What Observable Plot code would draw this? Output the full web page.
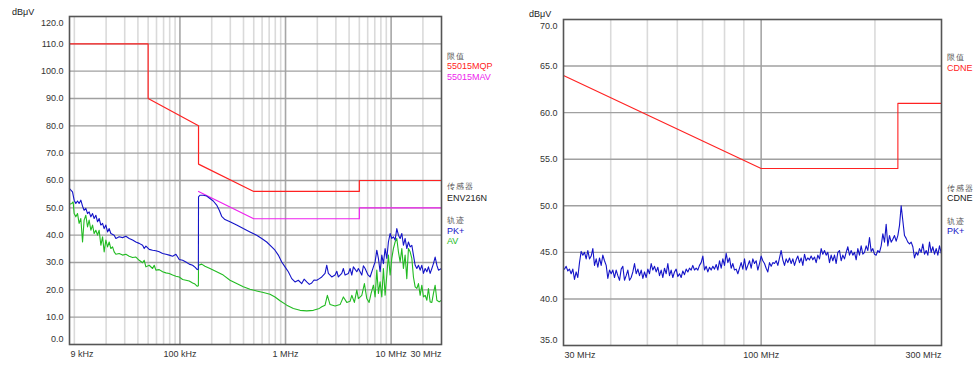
<!DOCTYPE html>
<html><head><meta charset="utf-8">
<script src="https://cdn.jsdelivr.net/npm/d3@7"></script>
<script src="https://cdn.jsdelivr.net/npm/@observablehq/plot@0.6"></script>
<style>
body{margin:0;background:#fff;font-family:"Liberation Sans",Arial,sans-serif;}
#wrap{position:relative;width:976px;height:373px;overflow:hidden;background:#fff}
.chart{position:absolute;top:0}
.lab{position:absolute;font-size:9px;line-height:10px;white-space:nowrap;color:#222}
.cn{font-size:8px;color:#555;letter-spacing:1px}
</style></head><body><div id="wrap"></div>
<script>
// ---------- LEFT CHART DATA (frequency in kHz, level in dBµV) ----------
const leftXDomain = [9, 30000];
const leftYDomain = [0, 120];
const leftYGrid = [10, 20, 30, 40, 50, 60, 70, 80, 90, 100, 110];
const leftYLabels = [0, 10, 20, 30, 40, 50, 60, 70, 80, 90, 100, 110, 120];
const leftGridMajor = [100, 1000, 10000];
const leftGridMinor = [10, 20, 30, 40, 50, 60, 70, 80, 90, 200, 300, 400, 500, 600, 700, 800, 900,
  2000, 3000, 4000, 5000, 6000, 7000, 8000, 9000, 20000];
const leftXTickValues = [9, 100, 1000, 10000, 30000];
const leftXTickLabels = ["9 kHz", "100 kHz", "1 MHz", "10 MHz", "30 MHz"];

const qpLimitFreq = [9, 50, 50, 150, 150, 500, 5000, 5000, 30000];
const qpLimitValues = [110, 110, 90, 80, 66, 56, 56, 60, 60];
const avLimitFreq = [150, 500, 5000, 5000, 30000];
const avLimitValues = [56, 46, 46, 50, 50];

const pkFreq = [9.0, 9.61, 9.96, 10.33, 10.72, 11.10, 11.52, 11.96, 12.38, 12.85, 13.34, 13.81, 14.34, 14.88,
  15.41, 15.99, 16.59, 17.18, 17.83, 18.51, 19.17, 19.89, 20.64, 21.38, 22.18, 23.84, 24.74, 26.59, 28.63,
  30.78, 33.07, 35.62, 38.28, 41.14, 44.31, 45.89, 47.62, 51.17, 55.11, 59.22, 63.65, 68.55, 73.67, 79.16,
  85.28, 91.65, 98.49, 106.1, 114.0, 122.5, 131.9, 139.6, 145.9, 149.5, 150, 154.7, 166.3, 179.1, 192.5,
  206.8, 222.8, 235.8, 248.5, 267.0, 297.9, 344.6, 398.1, 460.7, 533.3, 595, 663.4, 740, 795, 854.6, 920.5,
  989, 1063, 1145, 1230, 1322, 1424, 1500, 1588, 1680, 1772, 1860, 1976, 2092, 2204, 2368, 2458, 2545, 2741,
  2946, 3058, 3166, 3410, 3531, 3664, 3938, 4087, 4242, 4392, 4731, 4898, 5276, 5463, 5671, 6014, 6323,
  6795, 7052, 7320, 7579, 7865, 8162, 8453, 8772, 9103, 9427, 9783, 10150, 10510, 10910, 11320, 11730,
  12170, 12630, 13080, 13570, 14080, 14590, 15140, 15710, 16270, 16890, 17520, 18150, 18840, 19540, 20240,
  21010, 21800, 22570, 23420, 24310, 25170, 26120, 27110, 28080, 30000];
const pkValues = [57.0, 55.8, 52.8, 51.6, 52.5, 51.6, 52.8, 50.6, 49.1, 49.8, 47.9, 48.5, 46.7, 47.9,
  46.1, 47.3, 44.9, 46.1, 43.7, 44.3, 42.4, 43.7, 41.2, 42.4, 40.6, 40.0, 38.8, 39.4, 39.1,
  39.6, 38.8, 38.2, 37.5, 37.0, 36.3, 35.1, 36.0, 34.8, 34.5, 34.3, 33.9, 33.3, 33.0, 32.7,
  32.3, 33.0, 31.1, 30.8, 30.2, 29.4, 29.0, 28.2, 27.4, 27.6, 54.0, 54.6, 54.6, 54.3, 53.4,
  52.5, 51.0, 49.1, 46.9, 45.7, 44.9, 43.7, 42.4, 41.2, 40.0, 38.8, 37.5, 35.7, 34.5, 32.7, 30.2,
  28.4, 26.6, 24.1, 22.9, 23.5, 22.3, 23.9, 22.9, 22.0, 22.5, 23.6, 23.5, 24.1, 24.7, 26.0, 29.0, 26.0, 24.7,
  25.4, 26.8, 24.7, 26.0, 27.8, 25.4, 26.0, 27.8, 25.4, 28.4, 26.6, 27.8, 25.4, 28.8, 27.8, 25.6, 24.7,
  28.4, 30.2, 34.5, 31.5, 26.6, 32.7, 29.6, 35.1, 31.5, 37.5, 40.6, 38.8, 39.4, 38.2, 42.4, 40.0,
  38.8, 40.6, 36.3, 38.8, 35.1, 37.5, 35.7, 36.3, 32.7, 29.0, 27.8, 29.0, 27.2, 29.0, 26.0,
  27.8, 26.6, 28.4, 26.0, 27.8, 29.6, 32.0, 29.0, 27.2, 27.8];

const avFreq = [9.0, 9.47, 9.74, 9.96, 10.33, 10.72, 11.10, 11.52, 11.96, 12.38, 12.85, 13.34, 13.81, 14.34,
  14.88, 15.41, 15.99, 16.59, 17.18, 17.83, 18.51, 19.17, 19.89, 20.64, 21.38, 22.18, 23.02, 23.84, 24.74,
  26.59, 28.63, 30.78, 33.07, 35.62, 38.28, 41.14, 44.31, 45.89, 47.62, 51.17, 55.11, 57.07, 59.22, 63.65,
  68.55, 73.67, 79.16, 85.28, 91.65, 98.49, 106.1, 114.0, 122.5, 131.9, 138.8, 145.9, 149.5, 150, 160.6,
  172.6, 192.5, 222.8, 257.3, 297.9, 344.6, 398.1, 460.7, 533.3, 616.2, 713, 795, 886.9, 1027, 1186, 1372,
  1588, 1835, 2092, 2204, 2368, 2490, 2641, 2946, 3286, 3531, 3803, 4087, 4242, 4489, 4731, 4898, 5276,
  5585, 5885, 6188, 6463, 6795, 7052, 7320, 7579, 7865, 8162, 8453, 8772, 9103, 9427, 9783, 10150, 10510,
  10910, 11320, 11730, 12170, 12630, 13080, 13570, 14080, 14590, 15140, 15710, 16270, 16890, 17520, 18150,
  18840, 19540, 20240, 21010, 21800, 22570, 23420, 24310, 25170, 26120, 27110, 28510, 30000];
const avValues = [51.3, 51.6, 52.2, 47.9, 46.7, 47.9, 44.3, 46.1, 37.5, 45.5, 47.3, 43.0, 45.5, 41.8,
  43.7, 40.6, 41.8, 40.0, 41.8, 36.3, 39.4, 33.9, 38.2, 35.7, 37.5, 35.1, 35.7, 33.9, 33.0,
  33.3, 32.7, 33.0, 32.3, 31.8, 32.0, 30.8, 29.9, 30.8, 28.4, 29.0, 27.8, 29.0, 27.2, 27.4,
  26.6, 26.2, 26.0, 25.4, 25.0, 24.7, 23.8, 23.5, 23.2, 22.5, 22.1, 21.3, 21.5, 29.0, 29.4,
  28.6, 27.8, 26.6, 25.4, 23.5, 22.3, 21.1, 20.2, 19.6, 19.0, 18.4, 17.4, 16.0, 14.4, 13.2, 12.5,
  12.3, 12.5, 13.2, 13.8, 14.4, 18.0, 14.6, 14.1, 14.6, 17.4, 15.4, 15.8, 18.0, 15.4, 19.9, 16.8, 18.0,
  22.3, 16.8, 15.4, 18.7, 21.7, 17.4, 27.2, 18.7, 22.9, 17.4, 27.8, 18.0, 25.4, 32.7, 25.4, 31.5, 35.1,
  37.5, 38.8, 33.9, 30.2, 35.1, 27.8, 32.7, 24.1, 35.1, 33.9, 31.5, 24.7, 21.1, 20.5, 22.3,
  18.0, 21.7, 17.4, 18.0, 16.2, 20.5, 15.6, 15.4, 18.7, 21.7, 16.2, 15.6, 16.2];

// ---------- RIGHT CHART DATA (frequency in MHz, level in dBµV) ----------
const rightXDomain = [30, 300];
const rightYDomain = [35, 70];
const rightYGrid = [40, 45, 50, 55, 60, 65];
const rightYLabels = [35, 40, 45, 50, 55, 60, 65, 70];
const rightGridMajor = [100];
const rightGridMinor = [40, 50, 60, 70, 80, 90, 200];
const rightXTickValues = [30, 100, 300];
const rightXTickLabels = ["30 MHz", "100 MHz", "300 MHz"];

const cdneLimitFreq = [30, 100, 230, 230, 300];
const cdneLimitValues = [64, 54, 54, 61, 61];

const cdnePkFreq = [
  30.18, 30.49, 30.80, 31.11, 31.43, 31.75, 32.08, 32.40, 32.73, 33.07,
  33.41, 33.75, 34.10, 34.44, 34.79, 35.15, 35.51, 35.87, 36.24, 36.61,
  36.98, 37.36, 37.74, 38.12, 38.51, 38.91, 39.30, 39.70, 40.11, 40.52,
  40.93, 41.35, 41.77, 42.20, 42.63, 43.06, 43.50, 43.94, 44.39, 44.85,
  45.31, 45.77, 46.24, 46.71, 47.19, 47.67, 48.16, 48.65, 49.14, 49.64,
  50.15, 50.66, 51.18, 51.70, 52.23, 52.76, 53.30, 53.84, 54.39, 54.95,
  55.50, 56.07, 56.64, 57.22, 57.80, 58.39, 58.99, 59.59, 60.20, 60.81,
  61.43, 62.06, 62.69, 63.33, 63.98, 64.63, 65.29, 65.95, 66.63, 67.31,
  68.00, 68.69, 69.39, 70.10, 70.82, 71.54, 72.27, 73.01, 73.75, 74.51,
  75.27, 76.04, 76.81, 77.60, 78.39, 79.19, 80.00, 80.81, 81.64, 82.47,
  83.31, 84.16, 85.02, 85.89, 86.76, 87.65, 88.54, 89.45, 90.36, 91.28,
  92.21, 93.15, 94.10, 95.06, 96.03, 97.01, 98.00, 99.00, 100.01, 101.03,
  102.06, 103.10, 104.15, 105.22, 106.29, 107.37, 108.47, 109.58, 110.70, 111.83,
  112.97, 114.12, 115.29, 116.46, 117.65, 118.85, 120.07, 121.29, 122.53, 123.78,
  125.04, 126.32, 127.60, 128.91, 130.22, 131.55, 132.89, 134.25, 135.62, 137.00,
  138.40, 139.81, 141.24, 142.68, 144.14, 145.61, 147.09, 148.59, 150.11, 151.64,
  153.19, 154.75, 156.33, 157.93, 159.54, 161.17, 162.81, 164.47, 166.15, 167.85,
  169.56, 171.29, 173.04, 174.80, 176.59, 178.39, 180.21, 182.05, 183.91, 185.78,
  187.68, 189.60, 191.53, 193.48, 195.46, 197.45, 199.47, 201.50, 203.56, 205.64,
  207.74, 209.86, 212.00, 214.16, 216.35, 218.56, 220.79, 223.04, 225.32, 227.62,
  229.94, 232.29, 234.66, 237.05, 239.47, 241.91, 244.38, 246.87, 249.39, 251.94,
  254.51, 257.11, 259.73, 262.38, 265.06, 267.77, 270.50, 273.26, 276.05, 278.87,
  281.70, 284.57, 287.48, 290.41, 293.37, 296.37, 300.00];
const cdnePkValues = [
  43.2, 43.5, 43.0, 43.2, 42.7, 43.2, 42.1, 42.9, 42.3, 43.9,
  45.1, 44.7, 45.0, 44.3, 45.2, 44.3, 44.6, 45.4, 43.6, 44.3,
  43.4, 44.4, 43.6, 44.7, 44.1, 43.6, 42.2, 43.1, 42.7, 43.1,
  42.3, 43.1, 42.5, 42.0, 43.2, 43.5, 42.0, 42.5, 43.1, 42.0,
  42.3, 42.9, 43.8, 42.7, 43.2, 42.5, 43.1, 42.2, 42.9, 42.3,
  43.2, 42.7, 43.8, 43.1, 43.5, 42.9, 43.4, 42.5, 43.1, 42.3,
  43.3, 42.7, 43.8, 42.5, 43.1, 42.3, 42.9, 43.2, 42.4, 42.7,
  42.3, 43.0, 42.6, 43.2, 42.9, 43.3, 43.1, 43.6, 43.1, 43.3,
  43.1, 43.6, 43.9, 44.6, 43.1, 43.5, 42.9, 43.4, 43.1, 43.5,
  43.2, 43.7, 43.1, 44.1, 43.3, 44.3, 43.6, 44.9, 43.9, 44.4,
  43.3, 43.8, 43.1, 43.2, 42.7, 43.3, 43.9, 43.2, 44.3, 43.1,
  43.6, 44.1, 43.3, 44.3, 43.8, 44.1, 43.1, 43.8, 44.6, 44.1,
  43.8, 43.3, 42.9, 43.9, 43.5, 43.9, 43.8, 44.1, 43.6, 44.4,
  45.2, 44.2, 43.6, 44.3, 43.9, 44.4, 43.8, 44.3, 43.6, 44.2,
  44.6, 43.9, 44.4, 43.6, 44.8, 44.1, 44.4, 44.2, 44.6, 44.2,
  44.5, 43.9, 44.7, 44.3, 45.4, 44.8, 45.2, 44.7, 45.0, 43.9,
  44.7, 44.1, 44.7, 43.8, 45.0, 45.2, 44.1, 44.7, 44.3, 45.0,
  45.6, 44.7, 45.2, 44.7, 45.0, 44.2, 45.4, 44.7, 45.7, 44.8,
  45.0, 45.7, 45.2, 46.6, 45.1, 45.4, 44.8, 44.7, 45.2, 45.0,
  45.7, 47.0, 46.1, 48.0, 45.7, 46.8, 46.1, 46.4, 46.8, 46.2,
  46.8, 47.9, 50.0, 48.4, 46.8, 46.5, 46.1, 45.9, 46.1, 45.6,
  44.4, 45.0, 44.7, 45.4, 45.0, 45.9, 44.8, 45.2, 44.7, 46.1,
  45.0, 45.6, 44.8, 45.4, 44.7, 45.7, 44.8];

// ---------- helpers ----------
const FONT = '"Liberation Sans", Arial, sans-serif';
const series = (fs, vs) => fs.map((f, i) => ({f, v: vs[i]}));

function axisMarks(o) {
  const mid = o.yLabels.slice(1, -1);
  const n = o.xTickValues.length;
  const xl = o.xTickValues.map((v, i) => ({v, t: o.xTickLabels[i]}));
  const txt = {fontSize: 9, fill: "#333"};
  return [
    Plot.text(mid, {y: d => d, text: d => d.toFixed(1), frameAnchor: "left", textAnchor: "end", dx: -6, ...txt}),
    Plot.text([o.yLabels[0]], {y: d => d, text: d => d.toFixed(1), frameAnchor: "left", textAnchor: "end", dx: -6, dy: -5, ...txt}),
    Plot.text([o.yLabels[o.yLabels.length - 1]], {y: d => d, text: d => d.toFixed(1), frameAnchor: "left", textAnchor: "end", dx: -6, dy: 7, ...txt}),
    Plot.text(xl.slice(0, 1), {x: "v", text: "t", frameAnchor: "bottom", textAnchor: "start", dx: 1, dy: 12.5, ...txt}),
    Plot.text(xl.slice(1, n - 1), {x: "v", text: "t", frameAnchor: "bottom", textAnchor: "middle", dy: 12.5, ...txt}),
    Plot.text(xl.slice(n - 1), {x: "v", text: "t", frameAnchor: "bottom", textAnchor: "end", dy: 12.5, ...txt})
  ];
}

function chart(o) {
  return Plot.plot({
    width: o.width, height: 373,
    marginLeft: o.ml, marginRight: o.mr, marginTop: o.mt, marginBottom: o.mb,
    style: {background: "transparent", fontFamily: FONT, fontSize: "9px"},
    x: {type: "log", domain: o.xDomain, axis: null},
    y: {domain: o.yDomain, axis: null},
    marks: [
      Plot.ruleX(o.gridMinor, {stroke: "#dadada", strokeWidth: 1.6}),
      Plot.ruleX(o.gridMajor, {stroke: "#a6a6a6", strokeWidth: 1.6}),
      Plot.ruleY(o.yGrid, {stroke: "#a0a0a0", strokeWidth: 1.4}),
      ...o.lines.map(l => Plot.line(l.data, {x: "f", y: "v", stroke: l.color, strokeWidth: l.w || 1.1})),
      Plot.frame({stroke: "#555", strokeWidth: 1.6}),
      ...axisMarks(o)
    ]
  });
}

const wrap = document.getElementById("wrap");

const left = chart({
  width: 500, ml: 69, mr: 59, mt: 16, mb: 29,
  xDomain: leftXDomain, yDomain: leftYDomain,
  gridMinor: leftGridMinor, gridMajor: leftGridMajor, yGrid: leftYGrid,
  yLabels: leftYLabels, xTickValues: leftXTickValues, xTickLabels: leftXTickLabels,
  lines: [
    {data: series(qpLimitFreq, qpLimitValues), color: "#ff2222", w: 1.2},
    {data: series(avLimitFreq, avLimitValues), color: "#ee22ee", w: 1.2},
    {data: series(avFreq, avValues), color: "#22bb22"},
    {data: series(pkFreq, pkValues), color: "#1414c8"}
  ]
});
left.classList.add("chart"); left.style.left = "0px";
wrap.appendChild(left);

const right = chart({
  width: 476, ml: 63, mr: 35, mt: 19, mb: 28,
  xDomain: rightXDomain, yDomain: rightYDomain,
  gridMinor: rightGridMinor, gridMajor: rightGridMajor, yGrid: rightYGrid,
  yLabels: rightYLabels, xTickValues: rightXTickValues, xTickLabels: rightXTickLabels,
  lines: [
    {data: series(cdneLimitFreq, cdneLimitValues), color: "#ff2222", w: 1.1},
    {data: series(cdnePkFreq, cdnePkValues), color: "#1414c8"}
  ]
});
right.classList.add("chart"); right.style.left = "500px";
wrap.appendChild(right);

// ---------- unit labels & legends (HTML text) ----------
const labels = [
  {x: 12, y: 12, t: "dBμV"},
  {x: 529, y: 14, t: "dBμV"},
  {x: 447, y: 57, t: "限值", cn: true},
  {x: 447, y: 66, t: "55015MQP", c: "#ff2222"},
  {x: 447, y: 77, t: "55015MAV", c: "#ee22ee"},
  {x: 447, y: 187, t: "传感器", cn: true},
  {x: 447, y: 198, t: "ENV216N"},
  {x: 447, y: 221, t: "轨迹", cn: true},
  {x: 447, y: 231, t: "PK+", c: "#1414c8"},
  {x: 447, y: 241, t: "AV", c: "#22bb22"},
  {x: 947, y: 58, t: "限值", cn: true},
  {x: 947, y: 68, t: "CDNE", c: "#ff2222"},
  {x: 947, y: 189, t: "传感器", cn: true},
  {x: 947, y: 198, t: "CDNE"},
  {x: 947, y: 222, t: "轨迹", cn: true},
  {x: 947, y: 231, t: "PK+", c: "#1414c8"}
];
for (const l of labels) {
  const d = document.createElement("div");
  d.className = "lab" + (l.cn ? " cn" : "");
  d.textContent = l.t;
  d.style.left = l.x + "px";
  d.style.top = (l.y - 5) + "px";
  if (l.c) d.style.color = l.c;
  wrap.appendChild(d);
}
</script></body></html>
